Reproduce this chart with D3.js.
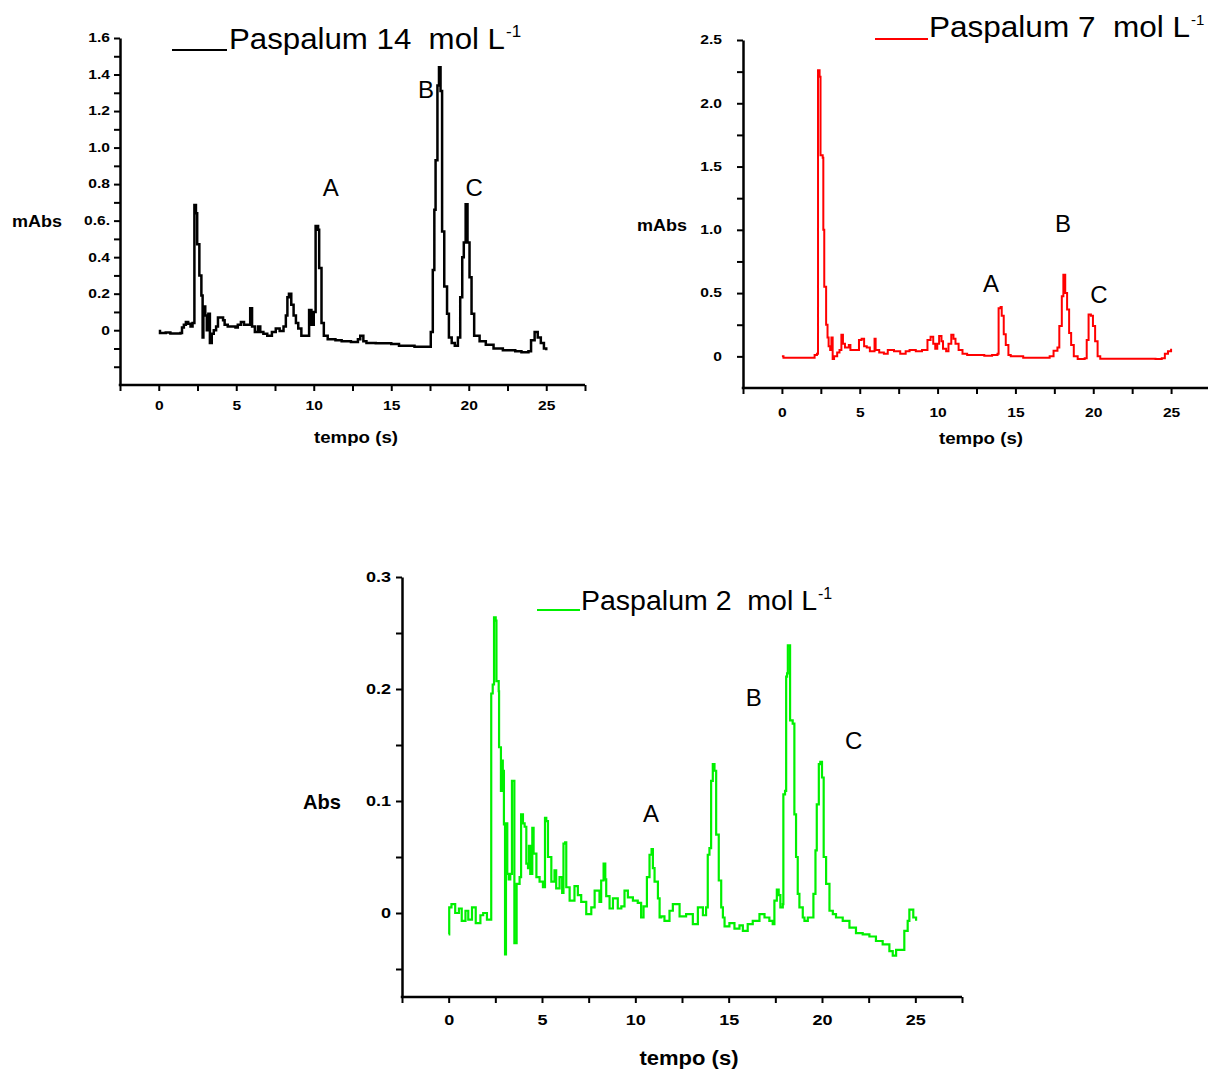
<!DOCTYPE html>
<html>
<head>
<meta charset="utf-8">
<script src="https://cdn.jsdelivr.net/npm/d3@7"></script>
<style>
  html, body { margin: 0; padding: 0; background: #fff; }
  svg { display: block; font-family: "Liberation Sans", Arial, Helvetica, sans-serif; }
  .title { white-space: pre; }
</style>
</head>
<body>
<svg id="chart" width="1208" height="1070"></svg>
<script>
// Electropherograms of Paspalum extracts at three concentrations.
// Each trace is a list of [tempo (s), absorbance] readings.

const paspalum14 = [
  [0.00,-0.005],[0.08,-0.015],[0.45,-0.012],[0.75,-0.018],[1.40,-0.015],[1.50,0.015],[1.62,0.03],
  [1.75,0.045],[1.90,0.035],[2.05,0.02],[2.18,0.04],[2.30,0.685],[2.40,0.64],[2.48,0.47],
  [2.62,0.30],[2.75,0.19],[2.83,-0.04],[2.88,0.13],[3.00,0.08],[3.10,0.00],[3.20,0.09],
  [3.30,-0.07],[3.42,-0.02],[3.55,0.00],[3.70,0.02],[3.82,0.07],[4.15,0.055],[4.25,0.03],
  [4.45,0.02],[4.70,0.02],[4.95,0.015],[5.10,0.03],[5.30,0.045],[5.50,0.03],[5.70,0.03],
  [5.90,0.12],[6.02,0.02],[6.20,-0.01],[6.40,0.02],[6.55,-0.01],[6.75,-0.02],[7.00,-0.03],
  [7.30,-0.01],[7.55,0.01],[7.80,-0.005],[8.05,0.02],[8.20,0.08],[8.30,0.18],[8.40,0.20],
  [8.55,0.14],[8.70,0.08],[8.85,0.04],[9.00,0.01],[9.20,-0.03],[9.70,0.11],[9.85,0.03],
  [10.00,0.10],[10.12,0.57],[10.28,0.55],[10.35,0.34],[10.50,0.04],[10.65,-0.03],[10.90,-0.05],
  [11.40,-0.055],[11.80,-0.06],[12.40,-0.065],[12.85,-0.05],[13.00,-0.03],[13.20,-0.06],
  [13.40,-0.07],[14.00,-0.072],[15.00,-0.075],[15.50,-0.085],[16.50,-0.09],[17.50,-0.09],
  [17.55,-0.01],[17.68,0.33],[17.78,0.66],[17.86,0.93],[17.98,1.34],[18.08,1.44],[18.18,1.31],
  [18.28,0.54],[18.42,0.24],[18.60,0.09],[18.72,-0.04],[18.90,-0.07],[19.10,-0.085],[19.30,-0.04],
  [19.45,0.18],[19.58,0.40],[19.68,0.48],[19.80,0.69],[19.92,0.48],[20.05,0.29],[20.18,0.09],
  [20.35,-0.03],[20.70,-0.06],[21.10,-0.08],[21.60,-0.10],[22.20,-0.11],[23.00,-0.115],
  [23.40,-0.12],[23.85,-0.115],[24.02,-0.055],[24.25,-0.01],[24.45,-0.04],[24.65,-0.07],
  [24.85,-0.10],[25.00,-0.11]
];

const paspalum7 = [
  [0.00,0.00],[0.10,-0.01],[1.85,-0.01],[2.10,0.01],[2.25,0.02],[2.32,2.26],[2.42,2.21],
  [2.48,1.59],[2.62,1.57],[2.66,1.00],[2.72,0.55],[2.84,0.25],[2.93,0.15],[3.00,0.08],
  [3.10,0.05],[3.18,0.15],[3.26,-0.02],[3.35,0.00],[3.55,0.03],[3.70,0.05],[3.82,0.17],
  [3.92,0.10],[4.05,0.07],[4.30,0.09],[4.40,0.05],[4.70,0.05],[4.95,0.13],[5.12,0.14],
  [5.28,0.08],[5.45,0.07],[5.65,0.04],[5.95,0.14],[6.02,0.05],[6.25,0.03],[6.55,0.02],
  [6.80,0.05],[7.20,0.04],[7.60,0.02],[7.95,0.04],[8.20,0.05],[8.60,0.04],[9.00,0.05],
  [9.35,0.13],[9.55,0.155],[9.72,0.10],[9.85,0.06],[9.98,0.10],[10.10,0.16],[10.25,0.12],
  [10.35,0.06],[10.55,0.04],[10.70,0.10],[10.88,0.17],[11.02,0.14],[11.15,0.10],[11.35,0.05],
  [11.60,0.02],[11.90,0.01],[12.40,0.01],[13.00,0.005],[13.50,0.01],[13.85,0.02],[13.92,0.38],
  [14.05,0.39],[14.12,0.32],[14.25,0.175],[14.38,0.09],[14.55,0.01],[14.70,0.00],[15.50,-0.01],
  [16.50,-0.01],[17.20,0.00],[17.45,0.045],[17.70,0.07],[17.82,0.24],[17.98,0.475],[18.08,0.645],
  [18.20,0.50],[18.32,0.37],[18.45,0.185],[18.58,0.09],[18.75,0.00],[19.00,-0.02],[19.45,-0.015],
  [19.58,0.13],[19.70,0.33],[19.85,0.32],[19.98,0.24],[20.12,0.12],[20.28,0.00],[20.45,-0.018],
  [22.00,-0.018],[24.00,-0.02],[24.40,-0.015],[24.60,0.02],[24.80,0.04],[25.00,0.06]
];

const paspalum2 = [
  [0.00,-0.019],[0.03,0.005],[0.15,0.008],[0.35,0.000],[0.55,0.004],[0.70,-0.007],[0.90,0.002],
  [1.05,-0.006],[1.25,0.005],[1.45,-0.009],[1.70,-0.002],[1.85,0.000],[2.05,-0.006],[2.28,0.196],
  [2.36,0.204],[2.43,0.264],[2.52,0.261],[2.56,0.207],[2.68,0.198],[2.70,0.148],[2.80,0.109],
  [2.85,0.136],[2.90,0.127],[2.96,0.079],[3.02,-0.037],[3.07,0.080],[3.14,0.035],[3.22,0.030],
  [3.30,0.035],[3.39,0.118],[3.52,-0.027],[3.64,0.026],[3.80,0.032],[3.88,0.088],[3.98,0.080],
  [4.07,0.077],[4.16,0.044],[4.25,0.040],[4.30,0.060],[4.37,0.035],[4.48,0.076],[4.55,0.053],
  [4.70,0.032],[4.87,0.028],[5.05,0.023],[5.16,0.085],[5.23,0.082],[5.32,0.050],[5.50,0.028],
  [5.67,0.038],[5.76,0.022],[5.94,0.032],[6.08,0.018],[6.15,0.062],[6.24,0.063],[6.30,0.023],
  [6.48,0.011],[6.74,0.024],[6.92,0.016],[7.10,0.010],[7.37,-0.001],[7.64,0.005],[7.82,0.020],
  [8.08,0.010],[8.17,0.029],[8.30,0.044],[8.39,0.030],[8.44,0.015],[8.62,0.004],[8.80,0.013],
  [9.06,0.004],[9.25,0.006],[9.42,0.020],[9.60,0.014],[9.87,0.011],[10.13,0.009],[10.31,-0.004],
  [10.44,0.006],[10.62,0.032],[10.76,0.052],[10.87,0.057],[10.94,0.040],[11.03,0.028],
  [11.21,0.013],[11.30,-0.004],[11.39,-0.003],[11.56,-0.007],[11.83,0.002],[12.01,0.008],
  [12.37,-0.003],[12.72,-0.001],[13.08,-0.010],[13.35,0.005],[13.62,-0.002],[13.79,0.005],
  [13.88,0.052],[13.97,0.058],[14.06,0.118],[14.15,0.133],[14.24,0.127],[14.33,0.070],
  [14.47,0.029],[14.60,0.005],[14.69,-0.004],[14.78,-0.012],[15.04,-0.009],[15.31,-0.014],
  [15.58,-0.011],[15.76,-0.016],[16.02,-0.010],[16.29,-0.007],[16.65,-0.001],[16.92,-0.004],
  [17.18,-0.007],[17.36,-0.010],[17.45,0.011],[17.58,0.021],[17.68,0.016],[17.77,0.005],
  [17.90,0.008],[17.93,0.106],[18.02,0.109],[18.08,0.211],[18.13,0.214],[18.17,0.239],
  [18.29,0.172],[18.43,0.169],[18.52,0.088],[18.61,0.050],[18.70,0.017],[18.79,0.005],
  [18.97,-0.004],[19.06,-0.007],[19.24,-0.004],[19.42,-0.004],[19.54,0.017],[19.65,0.056],
  [19.72,0.097],[19.83,0.133],[19.91,0.135],[20.00,0.121],[20.09,0.050],[20.22,0.026],
  [20.40,0.002],[20.58,-0.001],[20.75,-0.004],[21.11,-0.007],[21.47,-0.013],[21.82,-0.018],
  [22.18,-0.019],[22.54,-0.021],[22.89,-0.025],[23.25,-0.028],[23.61,-0.034],[23.79,-0.038],
  [23.97,-0.033],[24.23,-0.033],[24.41,-0.016],[24.59,-0.007],[24.68,0.003],[24.82,0.003],
  [24.89,-0.004],[25.04,-0.007]
];

// Tick values (minor and labelled) and their label text
const timeTicks = d3.range(-2.5, 27.6, 2.5);
const timeLabels = ["0", "5", "10", "15", "20", "25"];

const absTicks14 = d3.range(-2, 17).map(i => i / 10);
const absLabels14 = ["0", "0.2", "0.4", "0.6.", "0.8", "1.0", "1.2", "1.4", "1.6"];
const absTicks7 = d3.range(0, 11).map(i => i / 4);
const absLabels7 = ["0", "0.5", "1.0", "1.5", "2.0", "2.5"];
const absTicks2 = d3.range(-1, 7).map(i => i / 20);
const absLabels2 = ["0", "0.1", "0.2", "0.3"];

// Peak letters and where they sit, in data units of each panel
const peakNames = ["A", "B", "C"];
const peakPos14 = [[11.1, 0.78], [17.25, 1.32], [20.35, 0.78]];
const peakPos7 = [[13.43, 0.572], [18.05, 1.047], [20.37, 0.485]];
const peakPos2 = [[10.84, 0.0884], [16.35, 0.192], [21.7, 0.1536]];

const svg = d3.select("#chart");

const panels = [
  {
    data: paspalum14, color: "#000000", lineWidth: 2.5,
    xDomain: [-2.5, 27.5], xRange: [120, 585],
    yDomain: [-0.3, 1.6], yRange: [385, 38],
    yTicks: absTicks14, yLabels: absLabels14, yStep: 0.2,
    tickFont: 12, tickStretch: 1.3, yPad: 4, xPad: 10,
    yTitle: "mAbs", yTitleX: 12, yTitleY: 221, yTitleSize: 17, yTitleW: 50,
    xTitle: "tempo (s)", xTitleX: 356, xTitleY: 443, xTitleSize: 17, xTitleW: 84,
    title: "Paspalum 14  mol L", titleX: 229, titleY: 49, titleSize: 29, titleW: 276,
    supSize: 17, barX: [172, 227], barY: 50,
    peaks: peakPos14
  },
  {
    data: paspalum7, color: "#ff0000", lineWidth: 2,
    xDomain: [-2.5, 27.5], xRange: [743, 1210],
    yDomain: [-0.25, 2.5], yRange: [388, 40],
    yTicks: absTicks7, yLabels: absLabels7, yStep: 0.5,
    tickFont: 12, tickStretch: 1.3, yPad: 15, xPad: 14,
    yTitle: "mAbs", yTitleX: 637, yTitleY: 225, yTitleSize: 17, yTitleW: 50,
    xTitle: "tempo (s)", xTitleX: 981, xTitleY: 444, xTitleSize: 17, xTitleW: 84,
    title: "Paspalum 7  mol L", titleX: 929, titleY: 37, titleSize: 29, titleW: 261,
    supSize: 15, barX: [875, 928], barY: 39,
    peaks: peakPos7
  },
  {
    data: paspalum2, color: "#00f000", lineWidth: 2.2,
    xDomain: [-2.5, 27.5], xRange: [402, 962],
    yDomain: [-0.075, 0.3], yRange: [997, 577],
    yTicks: absTicks2, yLabels: absLabels2, yStep: 0.1,
    tickFont: 15, tickStretch: 1.2, yPad: 5, xPad: 11,
    yTitle: "Abs", yTitleX: 303, yTitleY: 801, yTitleSize: 21, yTitleW: 38,
    xTitle: "tempo (s)", xTitleX: 689, xTitleY: 1065, xTitleSize: 20, xTitleW: 99,
    title: "Paspalum 2  mol L", titleX: 581, titleY: 610, titleSize: 27, titleW: 236,
    supSize: 16, barX: [537, 580], barY: 610,
    peaks: peakPos2
  }
];

function stretchText(sel, k) {
  sel.each(function () {
    const w = this.getComputedTextLength();
    if (w > 0) d3.select(this).attr("textLength", w * k).attr("lengthAdjust", "spacingAndGlyphs");
  });
}

panels.forEach(p => {
  const x = d3.scaleLinear().domain(p.xDomain).range(p.xRange);
  const y = d3.scaleLinear().domain(p.yDomain).range(p.yRange);
  const g = svg.append("g");

  // trace
  const line = d3.line()
    .x(d => x(d[0]))
    .y(d => y(d[1]))
    .curve(d3.curveStepAfter);
  g.append("path")
    .datum(p.data)
    .attr("fill", "none")
    .attr("stroke", p.color)
    .attr("stroke-width", p.lineWidth)
    .attr("stroke-linejoin", "miter")
    .attr("d", line);

  // y axis
  const yLabelFor = v => {
    const i = Math.round(v / p.yStep);
    return (Math.abs(v - i * p.yStep) < 1e-6 && i >= 0 && i < p.yLabels.length) ? p.yLabels[i] : "";
  };
  const yAxis = g.append("g")
    .attr("transform", `translate(${p.xRange[0]},0)`)
    .call(d3.axisLeft(y).tickValues(p.yTicks).tickFormat(yLabelFor)
      .tickSize(6).tickSizeOuter(0).tickPadding(p.yPad));

  // x axis
  const xLabelFor = v => {
    const i = Math.round(v / 5);
    return (Math.abs(v - i * 5) < 1e-6 && i >= 0 && i < timeLabels.length) ? timeLabels[i] : "";
  };
  const xAxis = g.append("g")
    .attr("transform", `translate(0,${p.yRange[0]})`)
    .call(d3.axisBottom(x).tickValues(timeTicks).tickFormat(xLabelFor)
      .tickSize(6).tickSizeOuter(0).tickPadding(p.xPad));

  [yAxis, xAxis].forEach(a => {
    a.select(".domain").attr("stroke", "#000").attr("stroke-width", 2.5);
    a.selectAll(".tick line").attr("stroke", "#000").attr("stroke-width", 2);
    a.selectAll(".tick text")
      .attr("fill", "#000")
      .style("font-family", '"Liberation Sans", Arial, sans-serif')
      .style("font-size", p.tickFont + "px")
      .style("font-weight", "bold");
    stretchText(a.selectAll(".tick text"), p.tickStretch);
  });
  // extend the x axis baseline to meet the y axis corner cleanly
  xAxis.select(".domain").attr("d", `M${p.xRange[0] - 1.25},0H${p.xRange[1]}`);

  // axis titles
  g.append("text")
    .attr("x", p.yTitleX).attr("y", p.yTitleY)
    .attr("dominant-baseline", "central")
    .attr("font-size", p.yTitleSize).attr("font-weight", "bold")
    .attr("textLength", p.yTitleW).attr("lengthAdjust", "spacingAndGlyphs")
    .text(p.yTitle);
  g.append("text")
    .attr("x", p.xTitleX - p.xTitleW / 2).attr("y", p.xTitleY)
    .attr("font-size", p.xTitleSize).attr("font-weight", "bold")
    .attr("textLength", p.xTitleW).attr("lengthAdjust", "spacingAndGlyphs")
    .text(p.xTitle);

  // legend-style title with a short sample line
  g.append("line")
    .attr("x1", p.barX[0]).attr("x2", p.barX[1])
    .attr("y1", p.barY).attr("y2", p.barY)
    .attr("stroke", p.color).attr("stroke-width", 2);
  g.append("text")
    .attr("class", "title")
    .attr("x", p.titleX).attr("y", p.titleY)
    .attr("font-size", p.titleSize)
    .attr("textLength", p.titleW).attr("lengthAdjust", "spacingAndGlyphs")
    .text(p.title);
  g.append("text")
    .attr("x", p.titleX + p.titleW + 1).attr("y", p.titleY - p.titleSize * 0.42)
    .attr("font-size", p.supSize)
    .text("-1");

  // peak letters
  g.selectAll("text.peak")
    .data(p.peaks)
    .join("text")
    .attr("class", "peak")
    .attr("x", d => x(d[0]))
    .attr("y", d => y(d[1]))
    .attr("text-anchor", "middle")
    .attr("dominant-baseline", "central")
    .attr("font-size", 24)
    .text((d, i) => peakNames[i]);
});
</script>
</body>
</html>
